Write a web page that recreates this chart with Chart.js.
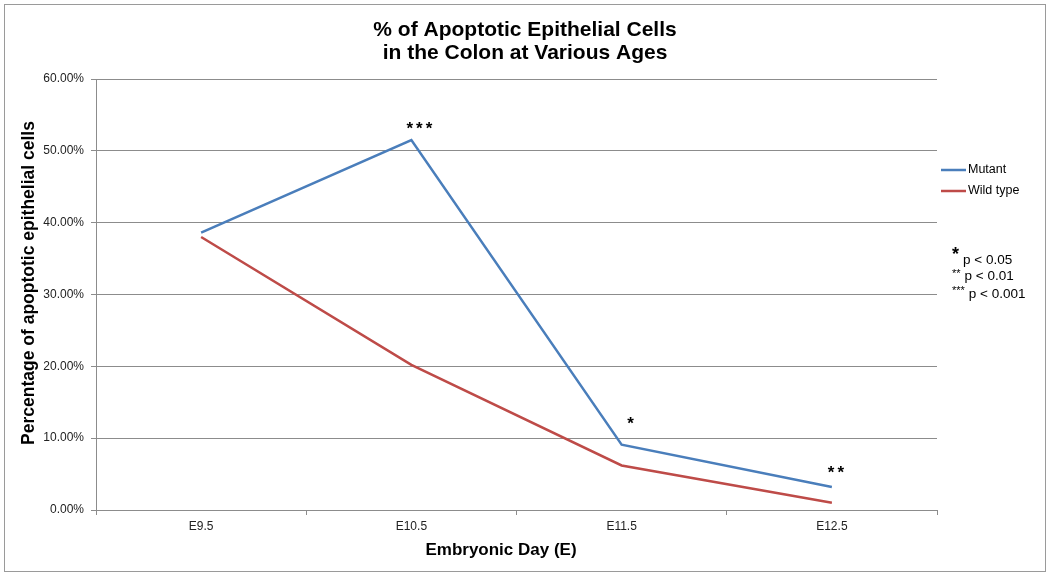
<!DOCTYPE html>
<html>
<head>
<meta charset="utf-8">
<script src="https://cdn.jsdelivr.net/npm/chart.js@4.4.1/dist/chart.umd.min.js"></script>
<style>
html,body{margin:0;padding:0;background:#fff;}
#wrap{width:1050px;height:576px;position:relative;}
</style>
</head>
<body>
<div id="wrap"><canvas id="c" width="1050" height="576"></canvas></div>
<script>
const categories = ['E9.5', 'E10.5', 'E11.5', 'E12.5'];
const mutant = [38.6, 51.5, 9.1, 3.2];
const wildType = [38.0, 20.2, 6.2, 1.0];
const significance = ['', '***', '*', '**'];
const yTickValues = [0, 10, 20, 30, 40, 50, 60];
const titleLines = ['% of Apoptotic Epithelial Cells', 'in the Colon at Various Ages'];
const notes = [['*', 'p < 0.05'], ['**', 'p < 0.01'], ['***', 'p < 0.001']];

const FONT = '"Liberation Sans", Arial, Helvetica, sans-serif';
const BLUE = '#4a7ebb';
const RED = '#be4b48';
const GRID = '#8c8c8c';

// per-annotation offsets (px) relative to the mutant point
const starOffsets = [[0, 0], [8, -14], [9, -23], [4, -17]];

const textPlugin = {
  id: 'texts',
  beforeDraw(chart) {
    const ctx = chart.ctx;
    ctx.save();
    ctx.fillStyle = '#fff';
    ctx.fillRect(0, 0, chart.width, chart.height);
    ctx.strokeStyle = '#9a9a9a';
    ctx.lineWidth = 1;
    ctx.strokeRect(4.5, 4.5, 1041, 567);
    ctx.restore();
  },
  afterDraw(chart) {
    const ctx = chart.ctx;
    ctx.save();
    ctx.fillStyle = '#000';
    ctx.textAlign = 'center';
    ctx.textBaseline = 'middle';
    ctx.font = 'bold 21px ' + FONT;
    titleLines.forEach((t, i) => ctx.fillText(t, 525, 30 + i * 23));

    // x axis title
    ctx.font = 'bold 17px ' + FONT;
    ctx.fillText('Embryonic Day (E)', 501, 550);
    // y axis title
    ctx.save();
    ctx.translate(29, 283);
    ctx.rotate(-Math.PI / 2);
    ctx.font = 'bold 17.5px ' + FONT;
    ctx.fillText('Percentage of apoptotic epithelial cells', 0, 0);
    ctx.restore();

    // legend
    ctx.textAlign = 'left';
    ctx.font = '12.5px ' + FONT;
    chart.data.datasets.forEach((ds, i) => {
      const y = 170 + i * 21;
      ctx.strokeStyle = ds.borderColor;
      ctx.lineWidth = 2.5;
      ctx.beginPath();
      ctx.moveTo(941, y);
      ctx.lineTo(966, y);
      ctx.stroke();
      ctx.fillStyle = '#000';
      ctx.fillText(ds.label, 968, y);
    });

    // p-value notes
    const noteY = [259, 276.5, 294];
    const nx = 952;
    notes.forEach((n, i) => {
      const y = noteY[i];
      if (i === 0) {
        ctx.font = 'bold 18px ' + FONT;
        const w = ctx.measureText(n[0]).width;
        ctx.fillText(n[0], nx, y - 4);
        ctx.font = '13.5px ' + FONT;
        ctx.fillText(n[1], nx + w + 4, y + 1);
      } else {
        ctx.font = '11px ' + FONT;
        const w = ctx.measureText(n[0]).width;
        ctx.fillText(n[0], nx, y - 3);
        ctx.font = '13.5px ' + FONT;
        ctx.fillText(n[1], nx + w + 4, y);
      }
    });

    // significance stars above mutant points
    const meta = chart.getDatasetMeta(0);
    ctx.textAlign = 'center';
    ctx.font = 'bold 17px ' + FONT;
    ctx.letterSpacing = '3px';
    significance.forEach((s, i) => {
      if (!s) return;
      const p = meta.data[i];
      const o = starOffsets[i];
      ctx.fillText(s, p.x + o[0] + 1.5, p.y + o[1] + 3);
    });
    ctx.restore();
  }
};

new Chart(document.getElementById('c'), {
  type: 'line',
  data: {
    labels: categories,
    datasets: [
      { label: 'Mutant', data: mutant, borderColor: BLUE, backgroundColor: BLUE, borderWidth: 2.5, pointRadius: 0, tension: 0 },
      { label: 'Wild type', data: wildType, borderColor: RED, backgroundColor: RED, borderWidth: 2.5, pointRadius: 0, tension: 0 }
    ]
  },
  options: {
    responsive: false,
    animation: false,
    devicePixelRatio: 1,
    layout: { padding: { top: 79, left: 10, right: 113, bottom: 10 } },
    plugins: { legend: { display: false }, tooltip: { enabled: false }, title: { display: false } },
    scales: {
      x: {
        type: 'category',
        offset: true,
        grid: { offset: true, drawOnChartArea: false, drawTicks: true, tickLength: 5, color: GRID, tickColor: GRID },
        border: { color: GRID, width: 1 },
        ticks: { color: '#222', font: { family: FONT, size: 12 }, padding: 4, maxRotation: 0 },
        afterFit(scale) { scale.height = 576 - 510 - 10; }
      },
      y: {
        min: 0, max: 60,
        afterBuildTicks(scale) { scale.ticks = yTickValues.map(v => ({ value: v })); },
        grid: { color: GRID, tickColor: GRID, tickLength: 5, lineWidth: 1 },
        border: { color: GRID, width: 1 },
        ticks: { color: '#222', font: { family: FONT, size: 12 }, padding: 7, callback: v => v.toFixed(2) + '%' },
        afterFit(scale) { scale.width = 96 - 10; }
      }
    }
  },
  plugins: [textPlugin]
});
</script>
</body>
</html>
